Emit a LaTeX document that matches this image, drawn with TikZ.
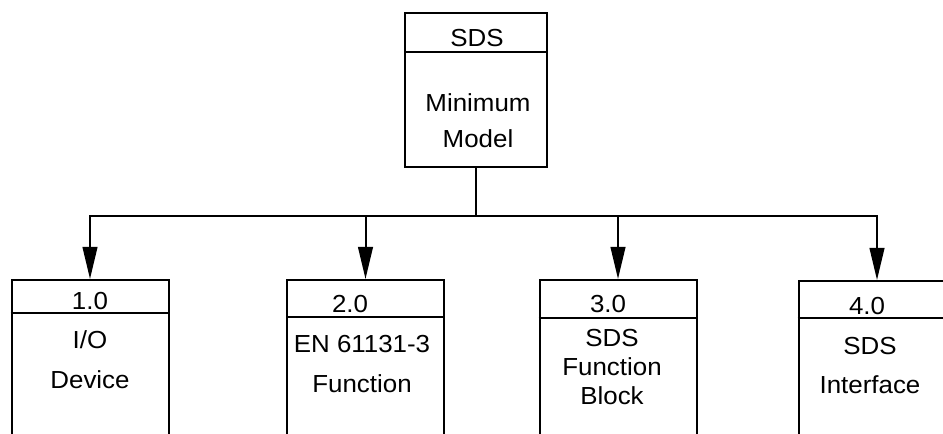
\documentclass[tikz,border=0pt]{standalone}
\usepackage{fontspec}
\setmainfont{Liberation Sans}[FakeStretch=1.05]
\usetikzlibrary{arrows.meta,positioning}

\begin{document}
\begin{tikzpicture}[x=0.75pt, y=-0.75pt,
    model/.style={rectangle, draw, line width=1.5pt, minimum width=106.5pt, minimum height=115.5pt, inner sep=0pt},
    unit/.style={rectangle, draw, line width=1.5pt, minimum width=117.75pt, minimum height=150pt, inner sep=0pt},
    tag/.style={anchor=base, inner sep=0pt, font=\fontsize{18.5}{22}\selectfont},
    body/.style={align=center, inner sep=0pt},
    link/.style={line width=1.5pt},
    flow/.style={-{Triangle[length=24pt, width=11pt]}, line width=1.5pt}
]

% page frame, lower boxes run off the bottom
\useasboundingbox (0,0) rectangle (943,434);
\clip (0,0) rectangle (943,434);

% ── Minimum model (top) ──
\node[model] (sds) at (476,90) {};
\draw[link] (sds.west |- 0,52) -- (sds.east |- 0,52);
\node[tag] (sdsno) at (477,47) {SDS};
\node[body, font=\fontsize{18.5}{27}\selectfont] (sdsname) at (478,121) {Minimum\\Model};

% ── Lower row ──
\node[unit] (io)  at (90,380) {};
\node[unit] (iec) at (365.5,380) {};
\node[unit] (fb)  at (618,380) {};
\node[unit] (sif) at (877,381) {};

\draw[link] (io.west |- 0,313)  -- (io.east |- 0,313);
\draw[link] (iec.west |- 0,317) -- (iec.east |- 0,317);
\draw[link] (fb.west |- 0,318)  -- (fb.east |- 0,318);
\draw[link] (sif.west |- 0,318) -- (sif.east |- 0,318);

\node[tag] (iono)  at (90,310)  {1.0};
\node[tag] (iecno) at (350,313) {2.0};
\node[tag] (fbno)  at (608,313) {3.0};
\node[tag] (sifno) at (867,315) {4.0};

\node[body, font=\fontsize{18.5}{30}\selectfont] (ioname)  at (90,360)  {I/O\\Device};
\node[body, font=\fontsize{18.5}{30}\selectfont] (iecname) at (362,364) {EN 61131-3\\Function};
\node[body, font=\fontsize{18.5}{21.75}\selectfont] (fbname) at (612,367) {SDS\\Function\\Block};
\node[body, font=\fontsize{18.5}{29.25}\selectfont] (sifname) at (870,366) {SDS\\Interface};

% ── Connectors ──
\coordinate (bus) at (sds.south |- 0,216);
\draw[link] (sds.south) -- (bus);
\draw[flow] (bus) -| (io.north);
\draw[flow] (bus) -| (iec.north);
\draw[flow] (bus) -| (fb.north);
\draw[flow] (bus) -| (sif.north);

\end{tikzpicture}
\end{document}
